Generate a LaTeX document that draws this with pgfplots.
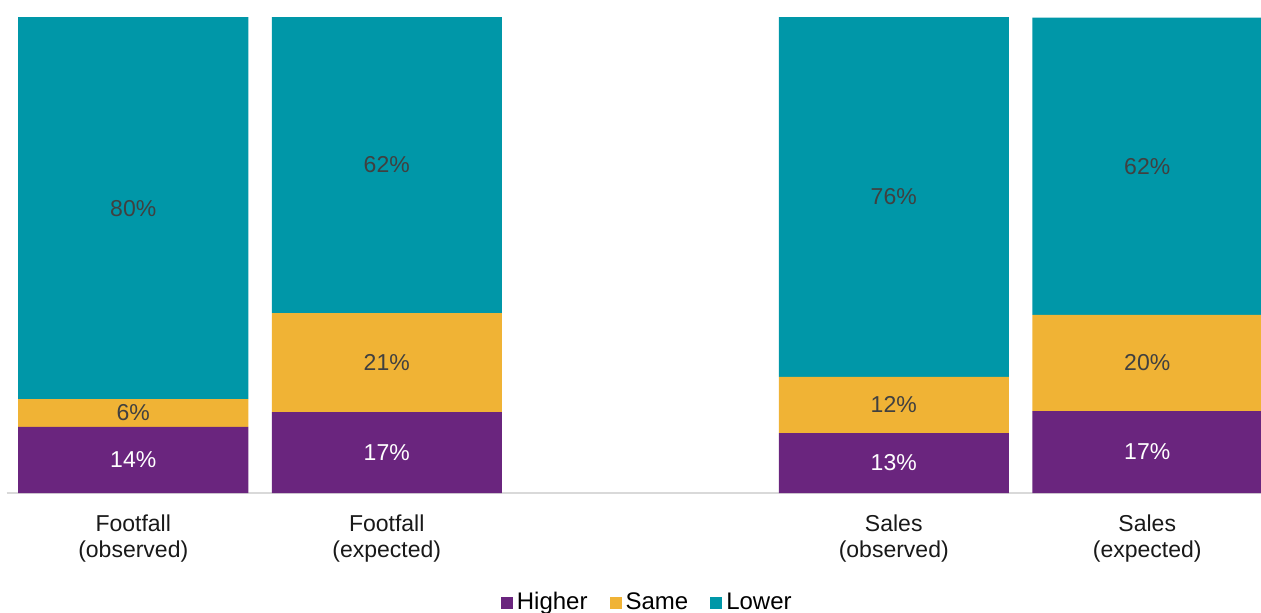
\documentclass[border=0pt]{standalone}
\usepackage{pgfplots}
\pgfplotsset{compat=1.18}
\usepackage{pgfplotstable}
\usepackage{fontspec}
\setmainfont{Liberation Sans}
\definecolor{cHigher}{RGB}{106,37,126}
\definecolor{cSame}{RGB}{240,179,53}
\definecolor{cLower}{RGB}{0,151,168}
\definecolor{cLab}{RGB}{64,64,64}
\definecolor{cAxis}{RGB}{217,217,217}

\pgfplotstableread{
x higher same lower
0 13.9 5.8 80.3
1 17.0 20.8 62.2
3 12.6 11.8 75.6
4 17.2 20.2 62.45
}\datatable

\begin{document}
\begin{tikzpicture}
\begin{axis}[
  scale only axis,
  width=633.75pt, height=238pt,
  ybar stacked,
  bar width=115pt,
  xmin=-0.5, xmax=4.5,
  ymin=0, ymax=100,
  enlarge x limits=false,
  enlarge y limits=false,
  axis y line=none,
  axis x line*=bottom,
  x axis line style={draw=cAxis, line width=1pt},
  xtick={0,1,3,4},
  xticklabels={Footfall\\(observed),Footfall\\(expected),Sales\\(observed),Sales\\(expected)},
  xticklabel style={align=center, font=\fontsize{11.5}{13}\selectfont, text=black!90, yshift=-7.5pt},
  major tick length=0pt,
  /pgf/number format/assume math mode=true,
  point meta=explicit,
  nodes near coords={\pgfmathprintnumber[fixed,precision=0]{\pgfplotspointmeta}\%},
  every node near coord/.append style={anchor=center, font=\fontsize{11.5}{13}\selectfont},
  legend style={at={(axis description cs:0.5,0)}, anchor=north, yshift=-45.5pt, xshift=4pt, draw=none, fill=none,
    legend columns=-1, font=\fontsize{12}{13}\selectfont,
    /tikz/every even column/.append style={column sep=9pt}},
  legend image code/.code={\fill[#1] (0pt,-3pt) rectangle (6pt,3pt);},
]
\addplot[fill=cHigher, draw=none, every node near coord/.append style={text=white}] table[x=x, y=higher, meta=higher]{\datatable};
\addplot[fill=cSame, draw=none, every node near coord/.append style={text=cLab}] table[x=x, y=same, meta=same]{\datatable};
\addplot[fill=cLower, draw=none, every node near coord/.append style={text=cLab}] table[x=x, y=lower, meta=lower]{\datatable};
\legend{Higher,Same,Lower}
\end{axis}
\pgfresetboundingbox
\path[use as bounding box] (-3.25pt,-59.5pt) rectangle (627.25pt,246.5pt);
\end{tikzpicture}
\end{document}
